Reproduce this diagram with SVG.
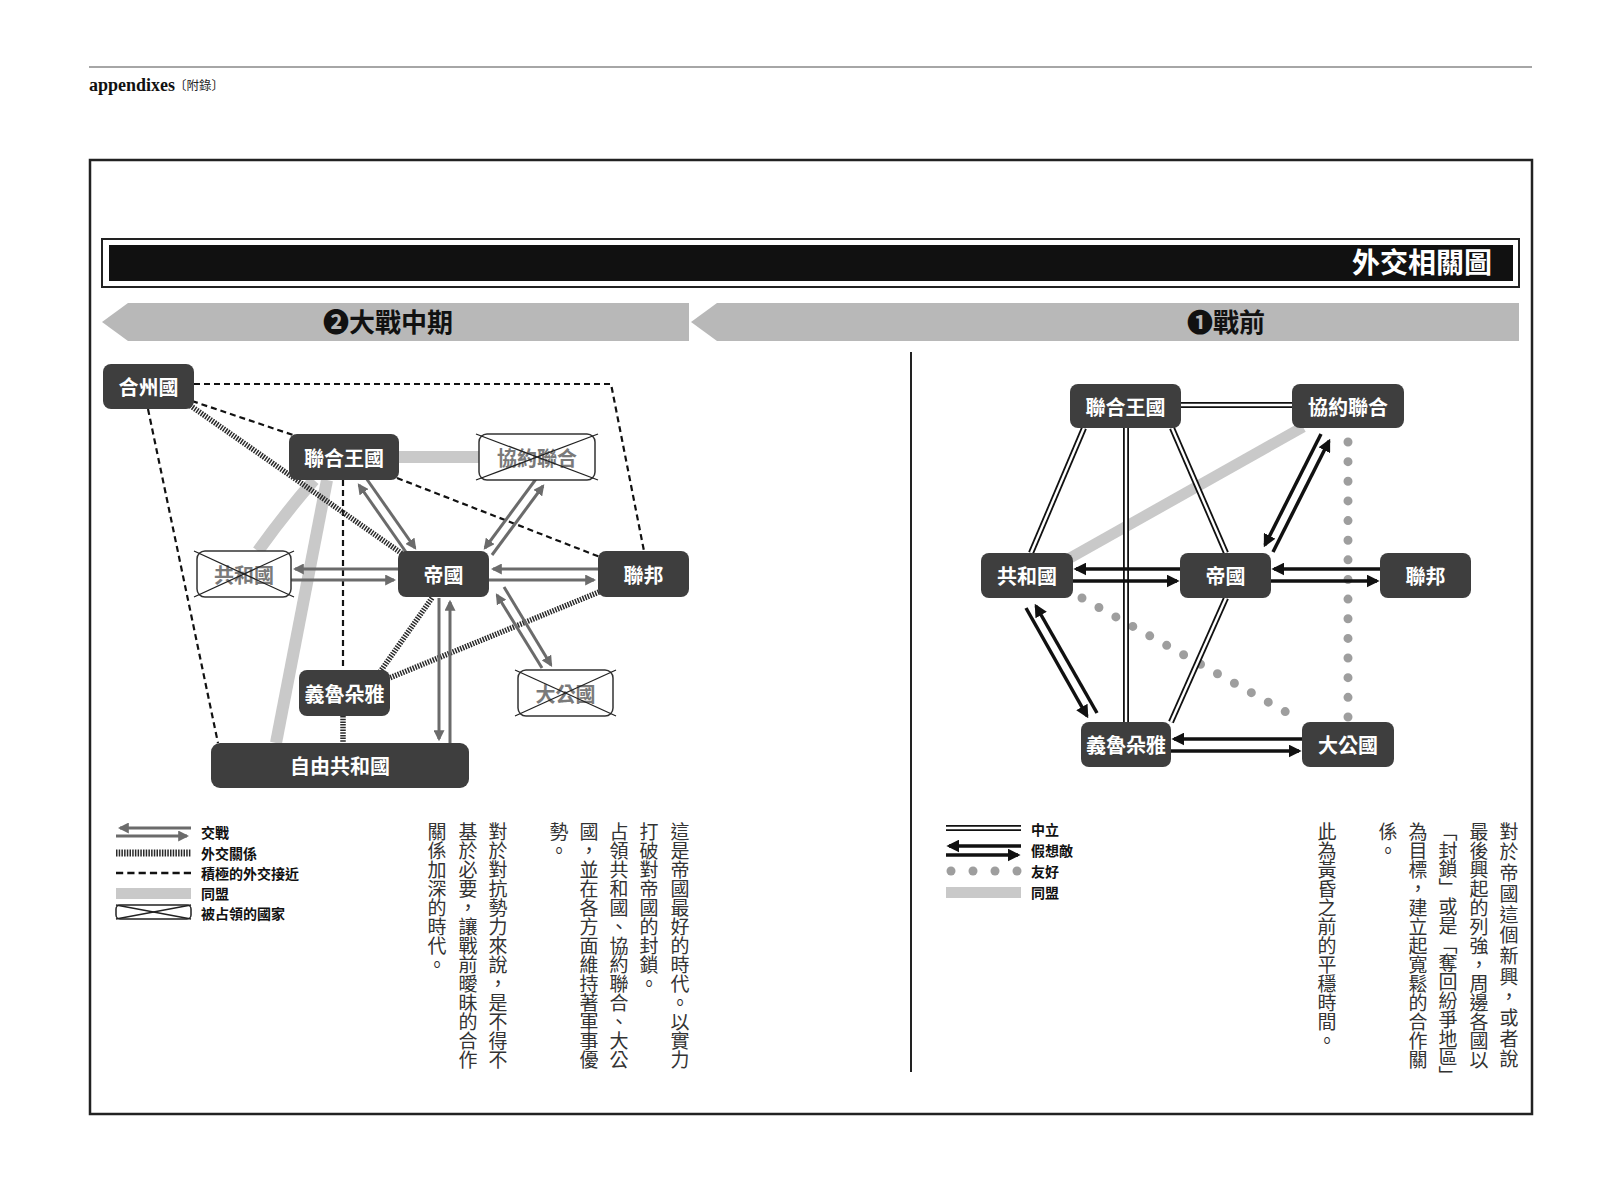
<svg xmlns="http://www.w3.org/2000/svg" width="1622" height="1200" viewBox="0 0 1622 1200">
<style>
.cjk{font-family:"Noto Sans CJK TC","Noto Sans CJK SC",sans-serif}
.node rect{fill:#3e3e3e}
.nt{font-family:"Noto Sans CJK TC","Noto Sans CJK SC",sans-serif;font-weight:700;font-size:20px;fill:#fff;text-anchor:middle;dominant-baseline:central}
.occ rect{fill:#fff;stroke:#333;stroke-width:1.5}
.occ .nt{fill:#7a7a7a}
.x{stroke:#222;stroke-width:1.3}
.war{stroke:#6b6b6b;stroke-width:3;fill:none;marker-end:url(#wg)}
.enemy{stroke:#111;stroke-width:3.5;fill:none;marker-end:url(#eb)}
.dip{stroke:#2a2a2a;stroke-width:5.5;stroke-dasharray:1.5 1.2;fill:none}
.dash{stroke:#111;stroke-width:2.2;stroke-dasharray:6 4;fill:none}
.ally{stroke:#c9c9c9;stroke-width:12;fill:none}
.neo{stroke:#111;stroke-width:6}
.nei{stroke:#fff;stroke-width:2.4}
.friend{stroke:#9e9e9e;stroke-width:9;stroke-linecap:round;stroke-dasharray:0 19.4;fill:none}
.body{font-family:"Noto Sans CJK TC","Noto Sans CJK SC",sans-serif;font-size:19px;fill:#333;writing-mode:vertical-rl}
.leg{font-family:"Noto Sans CJK TC","Noto Sans CJK SC",sans-serif;font-weight:700;font-size:14px;fill:#111;dominant-baseline:central}
</style>
<defs>
<marker id="wg" viewBox="0 0 10 10" refX="8" refY="5" markerWidth="11" markerHeight="11" markerUnits="userSpaceOnUse" orient="auto"><path d="M0,0 L10,5 L0,10 z" fill="#6b6b6b"/></marker>
<marker id="eb" viewBox="0 0 10 10" refX="8" refY="5" markerWidth="13" markerHeight="13" markerUnits="userSpaceOnUse" orient="auto"><path d="M0,0 L10,5 L0,10 z" fill="#111"/></marker>
</defs>
<rect width="1622" height="1200" fill="#fff"/>
<!-- header -->
<line x1="89" y1="67" x2="1532" y2="67" stroke="#888" stroke-width="1.5"/>
<text x="89" y="91" font-family="Liberation Serif,serif" font-weight="700" font-size="18" fill="#111">appendixes</text>
<text x="174" y="90" class="cjk" font-size="12.5" fill="#222">〔附錄〕</text>
<!-- frame -->
<rect x="90" y="160" width="1442" height="954" fill="none" stroke="#222" stroke-width="2.5"/>
<rect x="102" y="239" width="1417" height="48" fill="#fff" stroke="#222" stroke-width="2"/>
<rect x="109" y="245" width="1404" height="36" fill="#111"/>
<text x="1492" y="273" class="cjk" font-weight="700" font-size="28" fill="#fff" text-anchor="end">外交相關圖</text>
<polygon points="102,322 128,303 689,303 689,341 128,341" fill="#b8b8b8"/>
<polygon points="691,322 717,303 1519,303 1519,341 717,341" fill="#b8b8b8"/>
<text x="388" y="332" class="cjk" font-weight="700" font-size="26" fill="#111" text-anchor="middle">❷大戰中期</text>
<text x="1226" y="332" class="cjk" font-weight="700" font-size="26" fill="#111" text-anchor="middle">❶戰前</text>
<line x1="911" y1="352" x2="911" y2="1072" stroke="#222" stroke-width="2"/>

<g id="connectors">
<!-- left: alliances -->
<line class="ally" x1="399" y1="457" x2="479" y2="457"/>
<path class="ally" d="M314,480 Q286,512 258,551"/>
<line class="ally" x1="327" y1="480" x2="276" y2="743"/>
<!-- left: dashed -->
<polyline class="dash" points="194,384 611,384 644,551"/>
<line class="dash" x1="192" y1="401" x2="296" y2="436"/>
<line class="dash" x1="148" y1="409" x2="218" y2="743"/>
<line class="dash" x1="397" y1="478" x2="600" y2="557"/>
<line class="dash" x1="343" y1="480" x2="343" y2="670"/>
<!-- left: diplomatic -->
<line class="dip" x1="188" y1="404" x2="404" y2="555"/>
<line class="dip" x1="432" y1="598" x2="380" y2="672"/>
<line class="dip" x1="599" y1="592" x2="387" y2="679"/>
<line class="dip" x1="343" y1="716" x2="343" y2="743"/>
<!-- left: war -->
<line class="war" x1="408" y1="555" x2="359" y2="485"/>
<line class="war" x1="366" y1="478" x2="415" y2="548"/>
<line class="war" x1="536" y1="479" x2="485" y2="548"/>
<line class="war" x1="492" y1="555" x2="543" y2="486"/>
<line class="war" x1="542" y1="668" x2="497" y2="595"/>
<line class="war" x1="504" y1="587" x2="551" y2="665"/>
<line class="war" x1="398" y1="569" x2="295" y2="569"/>
<line class="war" x1="291" y1="580" x2="394" y2="580"/>
<line class="war" x1="598" y1="569" x2="493" y2="569"/>
<line class="war" x1="489" y1="580" x2="594" y2="580"/>
<line class="war" x1="439" y1="598" x2="439" y2="739"/>
<line class="war" x1="450" y1="743" x2="450" y2="602"/>
<!-- right: alliance -->
<line class="ally" x1="1303" y1="427" x2="1070" y2="558" style="stroke-width:11"/>
<!-- right: friendly -->
<line class="friend" x1="1082" y1="598" x2="1302" y2="721"/>
<line class="friend" x1="1348" y1="442" x2="1348" y2="717" style="stroke-dasharray:0 19.64"/>
<!-- right: neutral -->
<line class="neo" x1="1181" y1="405" x2="1292" y2="405"/><line class="nei" x1="1181" y1="405" x2="1292" y2="405"/>
<line class="neo" x1="1084" y1="428" x2="1031" y2="553"/><line class="nei" x1="1084" y1="428" x2="1031" y2="553"/>
<line class="neo" x1="1126" y1="428" x2="1126" y2="722"/><line class="nei" x1="1126" y1="428" x2="1126" y2="722"/>
<line class="neo" x1="1172" y1="428" x2="1226" y2="553"/><line class="nei" x1="1172" y1="428" x2="1226" y2="553"/>
<line class="neo" x1="1226" y1="598" x2="1171" y2="722"/><line class="nei" x1="1226" y1="598" x2="1171" y2="722"/>
<!-- right: enemy -->
<line class="enemy" x1="1321" y1="434" x2="1265" y2="545"/>
<line class="enemy" x1="1273" y1="552" x2="1329" y2="441"/>
<line class="enemy" x1="1180" y1="569" x2="1076" y2="569"/>
<line class="enemy" x1="1073" y1="581" x2="1177" y2="581"/>
<line class="enemy" x1="1380" y1="569" x2="1274" y2="569"/>
<line class="enemy" x1="1271" y1="581" x2="1377" y2="581"/>
<line class="enemy" x1="1097" y1="713" x2="1036" y2="606"/>
<line class="enemy" x1="1026" y1="608" x2="1087" y2="716"/>
<line class="enemy" x1="1302" y1="739" x2="1174" y2="739"/>
<line class="enemy" x1="1171" y1="751" x2="1299" y2="751"/>
</g>

<!-- left nodes -->
<g id="l-heshuguo" class="node"><rect x="103" y="364" width="91" height="45" rx="8"/><text class="nt" x="148.5" y="386.5">合州國</text></g>
<g id="l-lianhewangguo" class="node"><rect x="289" y="434" width="110" height="46" rx="8"/><text class="nt" x="344" y="457">聯合王國</text></g>
<g id="l-xieyuelianhe" class="occ"><rect x="479" y="434" width="116" height="46" rx="8"/><text class="nt" x="537" y="457">協約聯合</text><line class="x" x1="476" y1="434" x2="598" y2="480"/><line class="x" x1="476" y1="480" x2="598" y2="434"/></g>
<g id="l-gongheguo" class="occ"><rect x="197" y="551" width="94" height="46" rx="8"/><text class="nt" x="244" y="574">共和國</text><line class="x" x1="194" y1="551" x2="294" y2="597"/><line class="x" x1="194" y1="597" x2="294" y2="551"/></g>
<g id="l-diguo" class="node"><rect x="398" y="551" width="91" height="46" rx="8"/><text class="nt" x="443.5" y="574">帝國</text></g>
<g id="l-lianbang" class="node"><rect x="598" y="551" width="91" height="46" rx="8"/><text class="nt" x="643.5" y="574">聯邦</text></g>
<g id="l-yiluduoya" class="node"><rect x="299" y="670" width="91" height="46" rx="8"/><text class="nt" x="344.5" y="693">義魯朵雅</text></g>
<g id="l-dagongguo" class="occ"><rect x="518" y="670" width="95" height="46" rx="8"/><text class="nt" x="565.5" y="693">大公國</text><line class="x" x1="515" y1="670" x2="616" y2="716"/><line class="x" x1="515" y1="716" x2="616" y2="670"/></g>
<g id="l-ziyougongheguo" class="node"><rect x="211" y="743" width="258" height="45" rx="9"/><text class="nt" x="340" y="765.5">自由共和國</text></g>

<!-- right nodes -->
<g id="r-lianhewangguo" class="node"><rect x="1070" y="384" width="111" height="44" rx="8"/><text class="nt" x="1125.5" y="406">聯合王國</text></g>
<g id="r-xieyuelianhe" class="node"><rect x="1292" y="384" width="112" height="44" rx="8"/><text class="nt" x="1348" y="406">協約聯合</text></g>
<g id="r-gongheguo" class="node"><rect x="981" y="553" width="92" height="45" rx="8"/><text class="nt" x="1027" y="575.5">共和國</text></g>
<g id="r-diguo" class="node"><rect x="1180" y="553" width="91" height="45" rx="8"/><text class="nt" x="1225.5" y="575.5">帝國</text></g>
<g id="r-lianbang" class="node"><rect x="1380" y="553" width="91" height="45" rx="8"/><text class="nt" x="1425.5" y="575.5">聯邦</text></g>
<g id="r-yiluduoya" class="node"><rect x="1081" y="722" width="90" height="45" rx="8"/><text class="nt" x="1126" y="744.5">義魯朵雅</text></g>
<g id="r-dagongguo" class="node"><rect x="1302" y="722" width="92" height="45" rx="8"/><text class="nt" x="1348" y="744.5">大公國</text></g>

<!-- left legend -->
<g id="legend-left">
<line class="war" x1="191" y1="828" x2="120" y2="828"/>
<line class="war" x1="116" y1="836" x2="187" y2="836"/>
<text class="leg" x="201" y="832">交戰</text>
<line x1="116" y1="853" x2="191" y2="853" stroke="#2a2a2a" stroke-width="7" stroke-dasharray="1.5 1.2"/>
<text class="leg" x="201" y="853">外交關係</text>
<line x1="116" y1="873" x2="191" y2="873" stroke="#111" stroke-width="2.5" stroke-dasharray="7.2 4.1"/>
<text class="leg" x="201" y="873">積極的外交接近</text>
<rect x="116" y="888" width="75" height="11" fill="#c9c9c9"/>
<text class="leg" x="201" y="893">同盟</text>
<rect x="116" y="905" width="75" height="14" rx="4" fill="#fff" stroke="#222" stroke-width="1.5"/>
<line class="x" x1="116" y1="905" x2="191" y2="919"/><line class="x" x1="116" y1="919" x2="191" y2="905"/>
<text class="leg" x="201" y="913">被占領的國家</text>
</g>

<!-- right legend -->
<g id="legend-right">
<line class="neo" x1="946" y1="828" x2="1021" y2="828"/><line class="nei" x1="946" y1="828" x2="1021" y2="828"/>
<text class="leg" x="1031" y="829">中立</text>
<line class="enemy" x1="1021" y1="846" x2="949" y2="846"/>
<line class="enemy" x1="946" y1="855" x2="1018" y2="855"/>
<text class="leg" x="1031" y="850">假想敵</text>
<g fill="#9e9e9e"><circle cx="951" cy="871" r="4.5"/><circle cx="973" cy="871" r="4.5"/><circle cx="995" cy="871" r="4.5"/><circle cx="1017" cy="871" r="4.5"/></g>
<text class="leg" x="1031" y="871">友好</text>
<rect x="946" y="887" width="75" height="11" fill="#c9c9c9"/>
<text class="leg" x="1031" y="892">同盟</text>
</g>

<!-- body text left -->
<g id="text-left">
<text class="body" x="680" y="822">這是帝國最好的時代。以實力</text>
<text class="body" x="649" y="822">打破對帝國的封鎖。</text>
<text class="body" x="619" y="822">占領共和國、協約聯合、大公</text>
<text class="body" x="589" y="822">國，並在各方面維持著軍事優</text>
<text class="body" x="559" y="822">勢。</text>
<text class="body" x="498" y="822">對於對抗勢力來說，是不得不</text>
<text class="body" x="468" y="822">基於必要，讓戰前曖昧的合作</text>
<text class="body" x="437" y="822">關係加深的時代。</text>
</g>
<!-- body text right -->
<g id="text-right">
<text class="body" x="1509" y="822" letter-spacing="1.7">對於帝國這個新興，或者說</text>
<text class="body" x="1479" y="822">最後興起的列強，周邊各國以</text>
<text class="body" x="1448" y="822" letter-spacing="-0.2">「封鎖」或是「奪回紛爭地區」</text>
<text class="body" x="1418" y="822">為目標，建立起寬鬆的合作關</text>
<text class="body" x="1388" y="822">係。</text>
<text class="body" x="1327" y="822">此為黃昏之前的平穩時間。</text>
</g>
</svg>
